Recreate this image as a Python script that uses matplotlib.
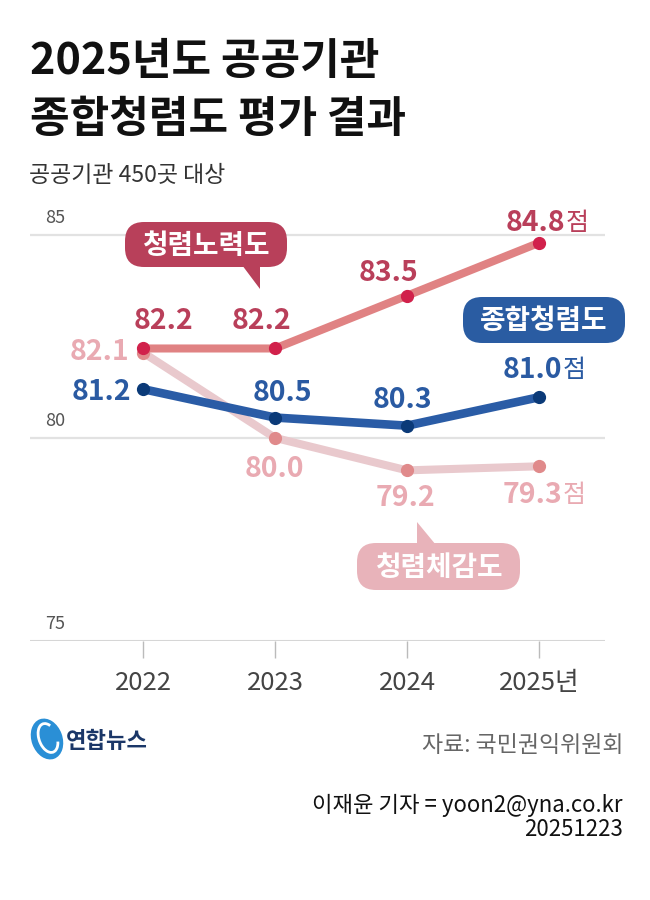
import matplotlib
matplotlib.use("Agg")
import matplotlib.pyplot as plt
from matplotlib.patches import FancyBboxPatch, Polygon, Ellipse, Arc
from matplotlib.transforms import Affine2D

plt.rcParams['font.family'] = ['Noto Sans CJK KR', 'DejaVu Sans']

W, H = 650, 900

years = [2022, 2023, 2024, 2025]
year_labels = ["2022", "2023", "2024", "2025년"]
effort = [82.2, 82.2, 83.5, 84.8]        # 청렴노력도
overall = [81.2, 80.5, 80.3, 81.0]       # 종합청렴도
perception = [82.1, 80.0, 79.2, 79.3]    # 청렴체감도
y_ticks = [75, 80, 85]

EFF_LINE, EFF_DOT, EFF_TXT, EFF_BOX = "#e08283", "#d1214b", "#b93f5a", "#b8405a"
OV_LINE, OV_DOT, OV_TXT, OV_BOX = "#2a5ca6", "#0b3a78", "#2a5aa2", "#2a5ca2"
PER_LINE, PER_DOT, PER_TXT, PER_BOX = "#e9c9cd", "#e08a8b", "#e9aab2", "#e8b3ba"

fig = plt.figure(figsize=(W / 100, H / 100), dpi=100)
# pixel coords, y going up from the bottom edge
pyt = Affine2D().scale(1 / W, 1 / H) + fig.transFigure


def px(x, y):
    # top-left pixel coords -> figure fraction
    return x / W, 1 - y / H


# title block
fig.text(*px(30, 74), "2025년도 공공기관", fontsize=31, fontweight="bold",
         color="#111111", va="baseline")
fig.text(*px(30, 132), "종합청렴도 평가 결과", fontsize=31, fontweight="bold",
         color="#111111", va="baseline")
fig.text(*px(29, 182), "공공기관 450곳 대상", fontsize=16.5, color="#333333",
         va="baseline")

# axes: x 30..605 px, y 201..641 px
ax = fig.add_axes([30 / W, 1 - 641 / H, 575 / W, 440 / H])
ax.set_xlim(2021.144, 2025.5)
ax.set_ylim(75, 85.83)
for s in ax.spines.values():
    s.set_visible(False)
ax.set_yticks([])
ax.set_xticks(years)
ax.set_xticklabels(year_labels, fontsize=18.5, color="#444444")
ax.tick_params(axis="x", length=12, width=1, color="#bbbbbb", pad=9)

for v in y_ticks:
    ax.axhline(v, color="#d6d6d6" if v == 75 else "#e2e2e2",
               lw=2.2 if v == 75 else 1.6, zorder=0)
    ax.annotate(str(v), xy=(2021.144, v), xytext=(15, 17),
                textcoords="offset pixels", fontsize=13, color="#555555",
                ha="left", va="center")

ax.plot(years, perception, color=PER_LINE, lw=5.8, zorder=1,
        solid_capstyle="round")
ax.plot(years, perception, "o", color=PER_DOT, ms=8.5, zorder=1.5)
ax.plot(years, effort, color=EFF_LINE, lw=5.8, zorder=2,
        solid_capstyle="round")
ax.plot(years, effort, "o", color=EFF_DOT, ms=8.5, zorder=2.5)
ax.plot(years, overall, color=OV_LINE, lw=6.2, zorder=3,
        solid_capstyle="round")
ax.plot(years, overall, "o", color=OV_DOT, ms=8.5, zorder=3.5)

# label offsets in pixels (dx, dy, ha)
eff_off = [(21, 27, "center"), (-13, 27, "center"), (-18, 23, "center"),
           (26, 20, "right")]
ov_off = [(-12, -3, "right"), (7, 25, "center"), (-5, 26, "center"),
          (23, 27, "right")]
per_off = [(-14, 1, "right"), (-1, -31, "center"), (-1, -28, "center"),
           (23, -29, "right")]


def label_series(vals, offs, color):
    for i, (yr, v) in enumerate(zip(years, vals)):
        dx, dy, ha = offs[i]
        ax.annotate(f"{v:.1f}", xy=(yr, v), xytext=(dx, dy),
                    textcoords="offset pixels", fontsize=20.5,
                    fontweight="bold", color=color, ha=ha, va="center",
                    zorder=5)
        if i == len(vals) - 1:
            ax.annotate("점", xy=(yr, v), xytext=(dx + 1, dy),
                        textcoords="offset pixels", fontsize=18,
                        color=color, ha="left", va="center", zorder=5)


label_series(effort, eff_off, EFF_TXT)
label_series(overall, ov_off, OV_TXT)
label_series(perception, per_off, PER_TXT)


def bubble(x0, y0, x1, y1, color, text, tail=None):
    r = 19
    # box given top-left based; convert to bottom-up pixels
    bx, by = x0 + r, H - y1 + r
    box = FancyBboxPatch((bx, by), (x1 - x0) - 2 * r, (y1 - y0) - 2 * r,
                         boxstyle=f"round,pad={r}", transform=pyt,
                         facecolor=color, edgecolor="none", zorder=10)
    fig.patches.append(box)
    if tail:
        pts = [(x, H - y) for x, y in tail]
        fig.patches.append(Polygon(pts, closed=True, transform=pyt,
                                   facecolor=color, edgecolor="none",
                                   zorder=10))
    fig.text(*px((x0 + x1) / 2, (y0 + y1) / 2 + 1), text, fontsize=20,
             fontweight="bold", color="white", ha="center", va="center",
             zorder=11)


bubble(125, 222, 287, 267, EFF_BOX, "청렴노력도",
       tail=[(242, 265), (260, 265), (260, 289)])
bubble(463, 297, 625, 343, OV_BOX, "종합청렴도")
bubble(357, 543, 520, 590, PER_BOX, "청렴체감도",
       tail=[(417, 522), (417, 545), (436, 545)])

# logo
fig.patches.append(Ellipse((47, H - 739), 31, 42, angle=20, transform=pyt,
                           facecolor="#2a8fd6", edgecolor="none"))
fig.patches.append(Arc((48, H - 738), 18, 30, angle=20, theta1=60,
                       theta2=320, transform=pyt, color="white", lw=2))
fig.text(*px(66, 742), "연합뉴스", fontsize=16, fontweight="bold",
         color="#1b3768", va="center")

# source / credit
fig.text(*px(623, 745), "자료: 국민권익위원회", fontsize=16.5, color="#666666",
         ha="right", va="center")
fig.text(*px(623, 805), "이재윤 기자 = yoon2@yna.co.kr", fontsize=16,
         color="#111111", ha="right", va="center")
fig.text(*px(623, 829), "20251223", fontsize=16, color="#111111",
         ha="right", va="center")

fig.savefig("out.png", dpi=100, facecolor="white")
